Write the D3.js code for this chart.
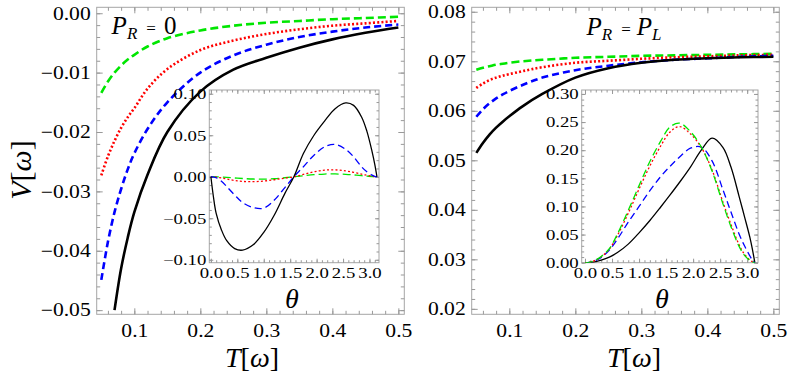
<!DOCTYPE html>
<html>
<head>
<meta charset="utf-8">
<script src="https://cdn.jsdelivr.net/npm/d3@7"></script>
<style>
  body { margin: 0; background: #fff; }
  svg { display: block; }
</style>
</head>
<body>
<div class="chart"></div>
<script>
// main panels: temperature grid
const tMain = [0.05, 0.06, 0.07, 0.08, 0.09, 0.1, 0.12, 0.15, 0.2, 0.25, 0.3, 0.35, 0.4, 0.45, 0.5];

// left main panel (P_R = 0)
const leftBlack = [null, null, -0.0500, -0.0430, -0.0378, -0.0335, -0.0272, -0.0200, -0.0132, -0.0095, -0.0075, -0.0058, -0.0044, -0.0033, -0.0024];
const leftBlue  = [-0.0449, -0.0385, -0.0335, -0.0296, -0.0263, -0.0236, -0.0195, -0.0150, -0.0100, -0.0071, -0.0053, -0.0040, -0.0031, -0.0024, -0.0019];
const leftRed   = [-0.0273, -0.0241, -0.0215, -0.0193, -0.0175, -0.0160, -0.0127, -0.0094, -0.0062, -0.0046, -0.0035, -0.0027, -0.0021, -0.0017, -0.0013];
const leftGreen = [-0.0134, -0.0115, -0.0100, -0.0088, -0.0078, -0.0070, -0.0056, -0.0042, -0.0029, -0.0021, -0.0016, -0.0013, -0.0010, -0.0008, -0.0006];

// right main panel (P_R = P_L)
const rightBlack = [0.0515, 0.0535, 0.0552, 0.0566, 0.0578, 0.0589, 0.0609, 0.0634, 0.0667, 0.0686, 0.0697, 0.0703, 0.0706, 0.0708, 0.0709];
const rightBlue  = [0.0588, 0.0603, 0.0615, 0.0625, 0.0633, 0.0640, 0.0652, 0.0667, 0.0682, 0.0691, 0.0698, 0.0703, 0.0706, 0.0709, 0.0711];
const rightRed   = [0.0646, 0.0655, 0.0662, 0.0667, 0.0671, 0.0674, 0.0680, 0.0688, 0.0697, 0.0701, 0.0705, 0.0708, 0.0710, 0.0712, 0.0713];
const rightGreen = [0.0683, 0.0687, 0.0690, 0.0693, 0.0695, 0.0697, 0.0700, 0.0703, 0.0707, 0.0709, 0.0711, 0.0712, 0.0713, 0.0714, 0.0715];

// insets: angle grid
const theta = [0, 0.05, 0.1, 0.2, 0.3, 0.45, 0.6, 0.8, 1.0, 1.2, 1.4, 1.57, 1.75, 1.95, 2.15, 2.35, 2.55, 2.7, 2.85, 2.95, 3.05, 3.1, 3.1416];

const insetLBlack = [0, -0.025, -0.044, -0.064, -0.077, -0.0865, -0.0884, -0.082, -0.067, -0.046, -0.020, 0, 0.028, 0.050, 0.067, 0.082, 0.089, 0.086, 0.072, 0.055, 0.030, 0.015, 0];
const insetLBlue  = [0, -0.0003, -0.0012, -0.0055, -0.0118, -0.022, -0.031, -0.037, -0.0378, -0.028, -0.013, 0, 0.012, 0.026, 0.036, 0.039, 0.033, 0.024, 0.012, 0.006, 0.002, 0.0005, 0];
const insetLRed   = [0, -0.0001, -0.0004, -0.0014, -0.0027, -0.0045, -0.0056, -0.0059, -0.0052, -0.0036, -0.0016, 0, 0.0028, 0.0060, 0.0080, 0.0083, 0.0070, 0.0054, 0.0032, 0.0018, 0.0006, 0.0002, 0];
const insetLGreen = [0, 0, -0.0001, -0.0004, -0.0008, -0.0015, -0.0021, -0.0027, -0.0029, -0.0024, -0.0012, 0, 0.0012, 0.0025, 0.0033, 0.0034, 0.0029, 0.0022, 0.0013, 0.0008, 0.0003, 0.0001, 0];

const insetRBlack = [0, 0.0001, 0.0005, 0.002, 0.0045, 0.010, 0.018, 0.033, 0.053, 0.075, 0.099, 0.120, 0.143, 0.170, 0.200, 0.2213, 0.205, 0.170, 0.118, 0.082, 0.045, 0.022, 0];
const insetRBlue  = [0, 0.0003, 0.0011, 0.0042, 0.0092, 0.0225, 0.042, 0.072, 0.100, 0.128, 0.153, 0.171, 0.188, 0.2035, 0.2055, 0.181, 0.130, 0.090, 0.051, 0.030, 0.012, 0.004, 0];
const insetRRed   = [0, 0.0003, 0.0012, 0.0048, 0.0105, 0.024, 0.0485, 0.088, 0.131, 0.172, 0.2075, 0.232, 0.242, 0.229, 0.205, 0.165, 0.108, 0.068, 0.032, 0.015, 0.005, 0.0015, 0];
const insetRGreen = [0, 0.0003, 0.0012, 0.005, 0.011, 0.025, 0.051, 0.093, 0.137, 0.180, 0.216, 0.241, 0.248, 0.233, 0.206, 0.163, 0.105, 0.064, 0.029, 0.013, 0.004, 0.001, 0];

// tick labels
const mainXTicks = [0.1, 0.2, 0.3, 0.4, 0.5];
const leftYTicks = [0, -0.01, -0.02, -0.03, -0.04, -0.05];
const rightYTicks = [0.02, 0.03, 0.04, 0.05, 0.06, 0.07, 0.08];
const insetXTicks = [0, 0.5, 1.0, 1.5, 2.0, 2.5, 3.0];
const insetLYTicks = [-0.10, -0.05, 0, 0.05, 0.10];
const insetRYTicks = [0, 0.05, 0.10, 0.15, 0.20, 0.25, 0.30];

const serif = 'Liberation Serif, Tinos, Times New Roman, Times, Nimbus Roman, Noto Serif, FreeSerif, DejaVu Serif, serif';

const width = 789, height = 375;
const svg = d3.select('.chart').append('svg')
    .attr('width', width)
    .attr('height', height);

const styles = {
    black: {color: '#000000', dash: null},
    blue:  {color: '#0000ff', dash: '7,4'},
    red:   {color: '#ff0000', dash: '2,2.2'},
    green: {color: '#00e600', dash: '8,4'}
};

let clipId = 0;

function frame(box, xs, ys, o) {
    const g = svg.append('g');
    const id = 'clip' + (clipId++);
    g.append('clipPath').attr('id', id).append('rect')
        .attr('x', box.x0).attr('y', box.y0)
        .attr('width', box.x1 - box.x0).attr('height', box.y1 - box.y0);

    g.append('rect')
        .attr('x', box.x0).attr('y', box.y0)
        .attr('width', box.x1 - box.x0).attr('height', box.y1 - box.y0)
        .attr('fill', '#fff').attr('stroke', '#a6a6a6').attr('stroke-width', 1);

    const fmtX = d3.format(o.xFmt), fmtY = d3.format(o.yFmt);

    // minor ticks on all four sides
    const minor = [
        [d3.axisBottom(xs), o.xMinor, `translate(0,${box.y1})`],
        [d3.axisTop(xs), o.xMinor, `translate(0,${box.y0})`],
        [d3.axisLeft(ys), o.yMinor, `translate(${box.x0},0)`],
        [d3.axisRight(ys), o.yMinor, `translate(${box.x1},0)`]
    ];
    minor.forEach(([ax, vals, tr]) => {
        g.append('g').attr('transform', tr)
            .call(ax.tickValues(vals).tickSize(-o.minorLen).tickFormat(''))
            .call(s => s.select('.domain').remove());
    });

    // major ticks, labels only bottom and left (glyphs are stretched sideways like the original)
    const xPad = o.xPad + o.majorLen, yPad = o.yPad + o.majorLen;
    g.append('g').attr('transform', `translate(0,${box.y1})`)
        .call(d3.axisBottom(xs).tickValues(o.xTicks).tickSize(-o.majorLen)
            .tickPadding(xPad).tickFormat(fmtX))
        .call(s => s.select('.domain').remove())
        .call(s => s.selectAll('text')
            .attr('font-size', o.fs)
            .attr('transform', `scale(${o.sx},1)`));
    g.append('g').attr('transform', `translate(0,${box.y0})`)
        .call(d3.axisTop(xs).tickValues(o.xTicks).tickSize(-o.majorLen).tickFormat(''))
        .call(s => s.select('.domain').remove());
    g.append('g').attr('transform', `translate(${box.x0},0)`)
        .call(d3.axisLeft(ys).tickValues(o.yTicks).tickSize(-o.majorLen)
            .tickPadding(yPad).tickFormat(fmtY))
        .call(s => s.select('.domain').remove())
        .call(s => s.selectAll('text')
            .attr('font-size', o.fs)
            .attr('x', -yPad / o.sx)
            .attr('transform', `scale(${o.sx},1)`));
    g.append('g').attr('transform', `translate(${box.x1},0)`)
        .call(d3.axisRight(ys).tickValues(o.yTicks).tickSize(-o.majorLen).tickFormat(''))
        .call(s => s.select('.domain').remove());

    g.selectAll('.tick line').attr('stroke', '#999');
    return {g: g, clip: `url(#${id})`};
}

function drawLines(fr, xs, ys, xv, series, lw) {
    const line = d3.line()
        .defined(d => d[1] != null)
        .x(d => xs(d[0]))
        .y(d => ys(d[1]))
        .curve(d3.curveCatmullRom);
    const lg = fr.g.append('g').attr('clip-path', fr.clip);
    series.forEach(([vals, st]) => {
        const pts = xv.map((x, i) => [x, vals[i]]);
        lg.append('path')
            .attr('d', line(pts))
            .attr('fill', 'none')
            .attr('stroke', styles[st].color)
            .attr('stroke-width', lw)
            .attr('stroke-dasharray', styles[st].dash);
    });
}

// ---- main panels
const mainOpts = {
    xTicks: mainXTicks, xMinor: d3.range(0.06, 0.5001, 0.02), xFmt: '.1f',
    yFmt: '.2f', majorLen: 6, minorLen: 3.5, fs: 18, sx: 1.2, xPad: 4, yPad: 0
};

const xL = d3.scaleLinear().domain([0.043, 0.509]).range([96.7, 404.3]);
const yL = d3.scaleLinear().domain([-0.0507, 0.001]).range([314.3, 7.3]);
const frL = frame({x0: 96.7, x1: 404.3, y0: 7.3, y1: 314.3}, xL, yL,
    Object.assign({}, mainOpts, {yTicks: leftYTicks, yMinor: d3.range(-0.05, 0.0001, 0.002)}));
drawLines(frL, xL, yL, tMain, [[leftGreen, 'green'], [leftRed, 'red'], [leftBlue, 'blue'], [leftBlack, 'black']], 2.6);

const xR = d3.scaleLinear().domain([0.043, 0.509]).range([471.7, 779.3]);
const yR = d3.scaleLinear().domain([0.0189, 0.0809]).range([314.3, 7.3]);
const frR = frame({x0: 471.7, x1: 779.3, y0: 7.3, y1: 314.3}, xR, yR,
    Object.assign({}, mainOpts, {yTicks: rightYTicks, yMinor: d3.range(0.02, 0.0801, 0.002)}));
drawLines(frR, xR, yR, tMain, [[rightGreen, 'green'], [rightRed, 'red'], [rightBlue, 'blue'], [rightBlack, 'black']], 2.6);

// ---- insets
const insetOpts = {
    xTicks: insetXTicks, xMinor: d3.range(0, 3.15, 0.1), xFmt: '.1f',
    yFmt: '.2f', majorLen: 4, minorLen: 2.5, fs: 15, sx: 1.25, xPad: 1, yPad: -1
};

const xIL = d3.scaleLinear().domain([-0.03, 3.18]).range([209.3, 379]);
const yIL = d3.scaleLinear().domain([-0.1035, 0.1045]).range([262.7, 90]);
const frIL = frame({x0: 209.3, x1: 379, y0: 90, y1: 262.7}, xIL, yIL,
    Object.assign({}, insetOpts, {yTicks: insetLYTicks, yMinor: d3.range(-0.1, 0.1001, 0.01)}));
drawLines(frIL, xIL, yIL, theta, [[insetLGreen, 'green'], [insetLRed, 'red'], [insetLBlue, 'blue'], [insetLBlack, 'black']], 1.3);

const xIR = d3.scaleLinear().domain([-0.061, 3.2]).range([581.7, 758]);
const yIR = d3.scaleLinear().domain([0, 0.307]).range([262.7, 90]);
const frIR = frame({x0: 581.7, x1: 758, y0: 90, y1: 262.7}, xIR, yIR,
    Object.assign({}, insetOpts, {yTicks: insetRYTicks, yMinor: d3.range(0, 0.3001, 0.01)}));
drawLines(frIR, xIR, yIR, theta, [[insetRBlack, 'black'], [insetRBlue, 'blue'], [insetRRed, 'red'], [insetRGreen, 'green']], 1.3);

// ---- axis titles and panel labels
function label(x, y, parts, size, rot) {
    const t = svg.append('text')
        .attr('x', x).attr('y', y)
        .attr('font-size', size)
        .attr('text-anchor', 'middle');
    if (rot) t.attr('transform', `rotate(${rot},${x},${y})`);
    parts.forEach(p => {
        const s = t.append('tspan').text(p.t);
        if (p.i) s.attr('font-style', 'italic');
        if (p.sub) s.attr('font-size', size * 0.68).attr('dy', p.sub);
        if (p.dx) s.attr('dx', p.dx);
    });
    return t;
}

label(252, 367, [{t: 'T', i: 1}, {t: '['}, {t: 'ω', i: 1}, {t: ']'}], 28);
label(634, 367, [{t: 'T', i: 1}, {t: '['}, {t: 'ω', i: 1}, {t: ']'}], 28);
label(31, 170, [{t: 'V', i: 1}, {t: '['}, {t: 'ω', i: 1}, {t: ']'}], 30, -90);
label(292, 308, [{t: 'θ', i: 1}], 28);
label(662, 308, [{t: 'θ', i: 1}], 28);

label(144, 34, [{t: 'P', i: 1}, {t: 'R', i: 1, sub: 5}, {t: '=', sub: -5, dx: 9}, {t: '0', dx: 8}], 25);
label(624, 35, [{t: 'P', i: 1}, {t: 'R', i: 1, sub: 5}, {t: '=', sub: -5, dx: 9}, {t: 'P', i: 1, dx: 6}, {t: 'L', i: 1, sub: 5}], 25);

svg.selectAll('text').style('font-family', serif).style('fill', '#000');
</script>
</body>
</html>
